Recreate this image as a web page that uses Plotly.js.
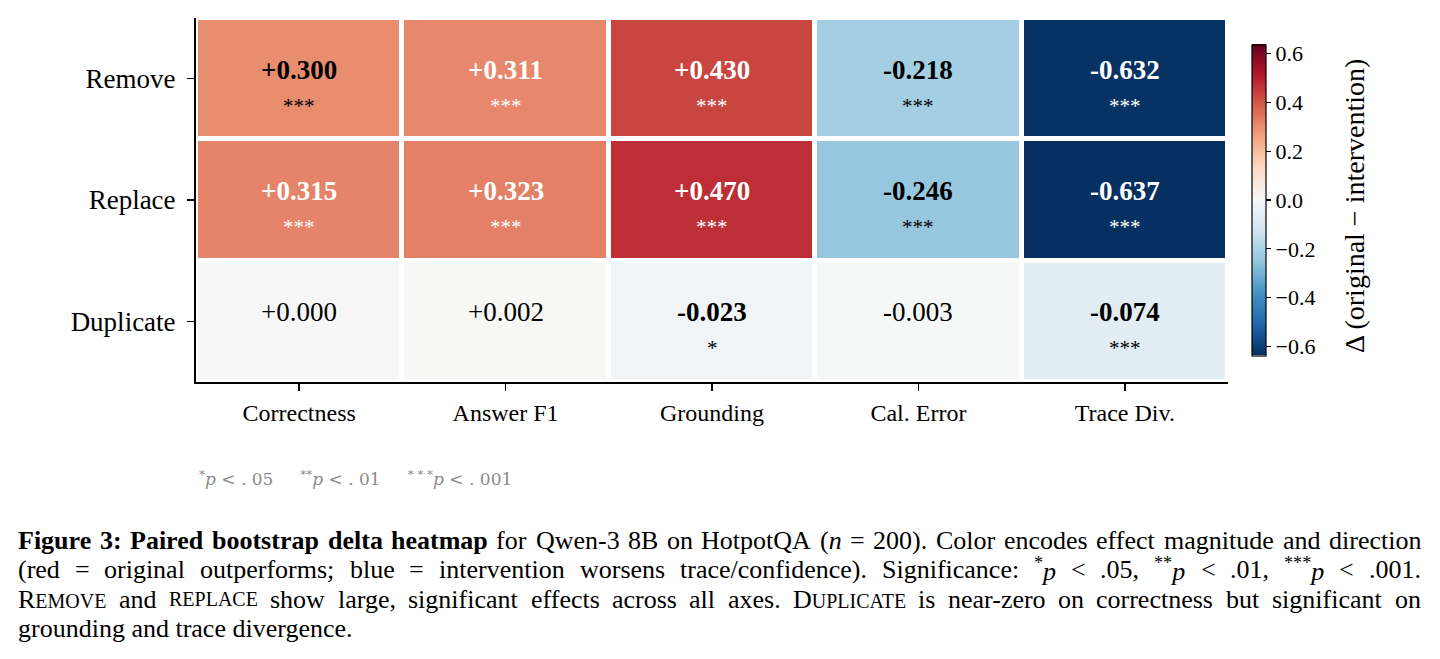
<!DOCTYPE html>
<html><head><meta charset="utf-8">
<script src="https://cdn.plot.ly/plotly-3.0.1.min.js"></script>
<style>html,body{margin:0;padding:0;background:#fff}</style>
</head><body><div id="chart" style="width:1440px;height:659px"></div>
<script>
// ---- data ----
const conditions = ['Remove', 'Replace', 'Duplicate'];
const metrics = ['Correctness', 'Answer F1', 'Grounding', 'Cal. Error', 'Trace Div.'];
const removeDelta = [0.300, 0.311, 0.430, -0.218, -0.632];
const replaceDelta = [0.315, 0.323, 0.470, -0.246, -0.637];
const duplicateDelta = [0.000, 0.002, -0.023, -0.003, -0.074];
const removeSig = ['***', '***', '***', '***', '***'];
const replaceSig = ['***', '***', '***', '***', '***'];
const duplicateSig = ['', '', '*', '', '***'];
const colorbarTicks = [-0.6, -0.4, -0.2, 0.0, 0.2, 0.4, 0.6];

// ---- layout helpers ----
const W = 1440, H = 659;
const L = 196, R = 1228, T = 18, B = 382;
const px = x => (x - L) / (R - L);
const py = y => (B - y) / (B - T);
const SERIF = '"Liberation Serif", "Times New Roman", Times, serif';

const z = [removeDelta, replaceDelta, duplicateDelta];
const sig = [removeSig, replaceSig, duplicateSig];
const vmax = Math.max(...z.flat().map(Math.abs));

const rdbuR = ['#053061', '#2166ac', '#4393c3', '#92c5de', '#d1e5f0', '#f7f7f7',
  '#fddbc7', '#f4a582', '#d6604d', '#b2182b', '#67001f'];
const colorscale = rdbuR.map((c, i) => [i / (rdbuR.length - 1), c]);

const fmt = v => (v < 0 ? '-' : '+') + Math.abs(v).toFixed(3);

const annotations = [];
conditions.forEach((cond, i) => {
  metrics.forEach((m, j) => {
    const v = z[i][j];
    const s = sig[i][j];
    const col = Math.abs(v) > 0.3 ? '#ffffff' : '#000000';
    annotations.push({
      x: m, y: cond, xref: 'x', yref: 'y', showarrow: false,
      text: s ? '<b>' + fmt(v) + '</b>' : fmt(v),
      yshift: 9,
      font: {family: SERIF, size: 27, color: col}
    });
    if (s) {
      annotations.push({
        x: m, y: cond, xref: 'x', yref: 'y', showarrow: false,
        text: s, yshift: -27,
        font: {family: SERIF, size: 21, color: col}
      });
    }
  });
});

// colorbar label (drawn as rotated annotation to match position)
annotations.push({
  xref: 'paper', yref: 'paper', x: px(1355), y: py(206), xanchor: 'center', yanchor: 'middle',
  showarrow: false, textangle: -90,
  text: 'Δ (original − intervention)',
  font: {family: SERIF, size: 28, color: '#000'}
});

// footnote
annotations.push({
  xref: 'paper', yref: 'paper', x: px(197), y: py(478), xanchor: 'left', yanchor: 'middle',
  showarrow: false,
  text: '<sup>*</sup><i>p</i> < . 05     <sup>**</sup><i>p</i> < . 01     <sup>* * *</sup><i>p</i> < . 001',
  font: {family: '"DejaVu Serif", serif', size: 17, color: '#8a8a8a'}
});

// caption (lines 1-3 justified word by word, line 4 natural)
const sc = t => '<span style="font-size:20px">' + t + '</span>';
const B_ = t => t.split(' ').map(w => '<b>' + w + '</b>').join(' ');
const captionLines = [
  B_('Figure 3: Paired bootstrap delta heatmap') + ' for Qwen-3 8B on HotpotQA (<i>n</i> = 200). Color encodes effect magnitude and direction',
  '(red = original outperforms; blue = intervention worsens trace/confidence). Significance: <sup>*</sup><i>p</i> < .05, <sup>**</sup><i>p</i> < .01, <sup>***</sup><i>p</i> < .001.',
  'R' + sc('EMOVE') + ' and ' + sc('REPLACE') + ' show large, significant effects across all axes. D' + sc('UPLICATE') + ' is near-zero on correctness but significant on',
  'grounding and trace divergence.'
];
const captionY = [540, 569, 599, 628];
const CAP_L = 17, CAP_R = 1420, CAP_SIZE = 26;
const splitWords = t => t.split(/ (?![^<]*>)/);
const justified = [];
captionLines.forEach((t, k) => {
  if (k < 3) {
    const words = splitWords(t);
    const idx = [];
    words.forEach(w => {
      idx.push(annotations.length);
      annotations.push({
        xref: 'paper', yref: 'paper', x: px(CAP_L), y: py(captionY[k]), xanchor: 'left', yanchor: 'middle',
        showarrow: false, text: w, borderpad: 0,
        font: {family: SERIF, size: CAP_SIZE, color: '#000000'}
      });
    });
    justified.push(idx);
  } else {
    annotations.push({
      xref: 'paper', yref: 'paper', x: px(CAP_L), y: py(captionY[k]), xanchor: 'left', yanchor: 'middle',
      showarrow: false, text: t, borderpad: 0,
      font: {family: SERIF, size: CAP_SIZE, color: '#000000'}
    });
  }
});

const trace = {
  type: 'heatmap',
  x: metrics, y: conditions, z: z,
  zmin: -vmax, zmax: vmax,
  colorscale: colorscale,
  xgap: 5, ygap: 5,
  hoverinfo: 'skip',
  colorbar: {
    x: 1 + (1252 - R) / (R - L), xanchor: 'left', xref: 'paper', xpad: 0,
    y: 0.5, yanchor: 'middle', len: 311 / (B - T), lenmode: 'fraction', ypad: 0,
    thickness: 14, thicknessmode: 'pixels',
    outlinewidth: 1.2, outlinecolor: '#000',
    tickvals: colorbarTicks, tickformat: '.1f',
    ticks: 'outside', ticklen: 5, tickcolor: '#000', tickwidth: 1.2,
    tickfont: {family: SERIF, size: 22, color: '#000'}
  }
};

const layout = {
  width: W, height: H,
  margin: {l: L, r: W - R, t: T, b: H - B, pad: 0},
  paper_bgcolor: '#ffffff', plot_bgcolor: '#ffffff',
  xaxis: {
    showgrid: false, zeroline: false, showline: true, linecolor: '#000', linewidth: 2,
    ticks: 'outside', ticklen: 7, tickwidth: 1.5, tickcolor: '#000',
    tickfont: {family: SERIF, size: 24, color: '#000'},
    range: [-0.5, 4.5], fixedrange: true, ticklabelstandoff: 1
  },
  yaxis: {
    showgrid: false, zeroline: false, showline: true, linecolor: '#000', linewidth: 2,
    ticks: 'outside', ticklen: 7, tickwidth: 1.5, tickcolor: '#000',
    tickfont: {family: SERIF, size: 27, color: '#000'},
    autorange: 'reversed', fixedrange: true, ticklabelstandoff: 6
  },
  annotations: annotations,
  showlegend: false
};

const gd = document.getElementById('chart');
Plotly.newPlot(gd, [trace], layout, {displayModeBar: false, staticPlot: true}).then(() => {
  const widthOf = i => {
    const g = gd.querySelector('.annotation[data-index="' + i + '"] .annotation-text');
    return g ? g.getBBox().width : 0;
  };
  const update = {};
  justified.forEach(idx => {
    const ws = idx.map(widthOf);
    const total = ws.reduce((a, b) => a + b, 0);
    const gap = Math.max(4, (CAP_R - CAP_L - total) / (idx.length - 1));
    let cur = CAP_L;
    idx.forEach((ai, n) => {
      update['annotations[' + ai + '].x'] = px(cur);
      cur += ws[n] + gap;
    });
  });
  return Plotly.relayout(gd, update);
});
</script>
</body></html>
